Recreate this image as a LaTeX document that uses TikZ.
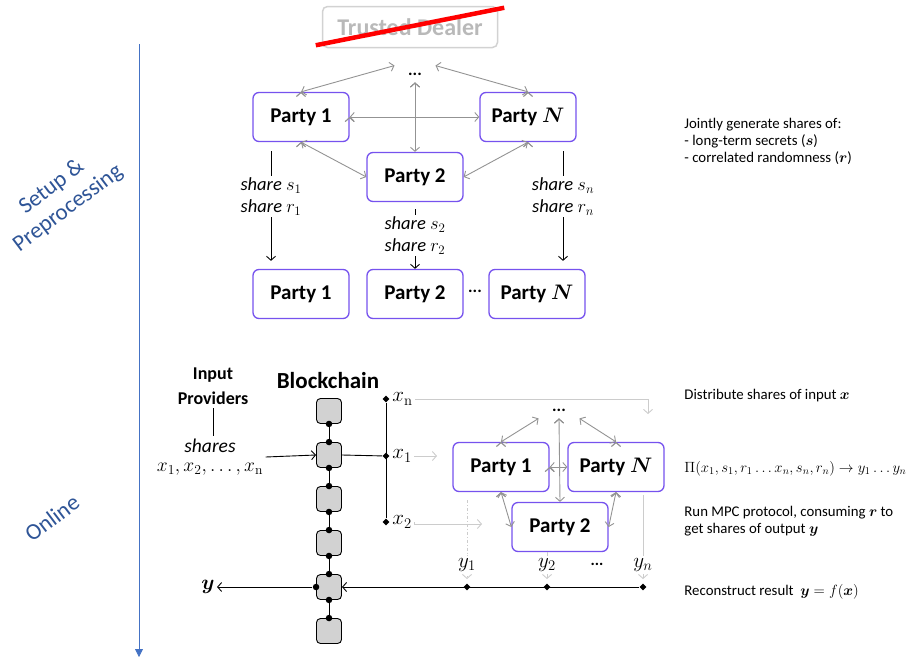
\documentclass[tikz,border=0pt]{standalone}
\usepackage{fix-cm}
\usepackage{amssymb,amsmath}
\usepackage[no-math]{fontspec}
\setmainfont{Carlito}
\usetikzlibrary{shapes.geometric}
\usetikzlibrary{arrows.meta}

\definecolor{partyline}{RGB}{118,82,238}
\definecolor{timeline}{RGB}{68,114,196}
\definecolor{phasetext}{RGB}{47,85,151}

\tikzset{
  party/.style={rectangle, rounded corners=6pt, draw=partyline, line width=1.3pt,
    fill=white, minimum width=96pt, minimum height=49pt,
    font=\fontsize{21}{24}\selectfont\bfseries},
  peer/.style={<->, draw=gray!85, line width=0.9pt},
  feed/.style={->, draw=gray!40, line width=0.9pt},
  blk/.style={rectangle, rounded corners=4pt, draw, line width=0.9pt, fill=gray!35,
    minimum width=25pt, minimum height=25pt},
  chaindot/.style={circle, fill, inner sep=0pt, minimum size=6.5pt},
  joint/.style={diamond, fill, inner sep=0pt, minimum size=7pt},
  sharelbl/.style={fill=white, align=center, inner sep=2pt,
    font=\fontsize{18.5}{22}\selectfont\itshape},
  mathlbl/.style={font=\fontsize{21}{21}\selectfont, inner sep=2pt},
  note/.style={anchor=west, align=left, inner sep=0pt,
    font=\fontsize{14.8}{17}\selectfont},
  phase/.style={text=phasetext, align=center, rotate=37,
    font=\fontsize{23}{27}\selectfont},
}

\begin{document}
\begin{tikzpicture}[x=1pt, y=-1pt, line width=0.9pt,
  >={Straight Barb[length=4pt,width=9pt]}]
\useasboundingbox (0,0) rectangle (917,664);

  % time line on the left
  \draw[timeline, line width=0.8pt, -{Triangle[length=8pt,width=8pt]}] (139,44) -- (139,657);
  \node[phase] (setup) at (60,198) {Setup \&\\Preprocessing};
  \node[phase] (online) at (52,518) {Online};

  % crossed out dealer
  \node[rectangle, rounded corners=5pt, draw=gray!35, line width=1.5pt, text=gray!55,
        minimum width=175pt, minimum height=41pt, font=\fontsize{24}{26}\selectfont\bfseries]
       (dealer) at (410,27) {Trusted Dealer};
  \draw[red, line width=4.5pt] ([xshift=-6pt,yshift=3pt]dealer.south west)
       -- ([xshift=6pt,yshift=-2pt]dealer.north east);

  % preprocessing parties
  \node[font=\fontsize{17}{17}\selectfont\bfseries, minimum width=40pt, minimum height=16pt]
       (topdots) at (415,74) {...};
  \node[party] (p1) at (301,117) {Party 1};
  \node[party] (pN) at (528,117) {Party $\boldsymbol{N}$};
  \node[party] (p2) at (415,177) {Party 2};

  \path[peer] (p1.north) edge (topdots.north west);
  \path[peer] (pN.north) edge (topdots.north east);
  \path[peer] (p1.east) edge (pN.west);
  \path[peer] (topdots.south) edge (p2.north);
  \path[peer] (p1.south) edge (p2.west);
  \path[peer] (pN.south) edge (p2.east);

  % shares after preprocessing
  \node[party] (q1) at (301,294) {Party 1};
  \node[party] (q2) at (415,294) {Party 2};
  \node[party] (qN) at (537,294) {Party $\boldsymbol{N}$};
  \node[font=\fontsize{17}{17}\selectfont\bfseries] (qdots) at (475,291) {...};

  \draw[->, shorten <=9pt, shorten >=8pt] ([xshift=-30pt]p1.south) -- ([xshift=-30pt]q1.north)
       node[sharelbl, pos=0.43] (sh1) {share $s_1$\\share $r_1$};
  \draw[->, shorten <=7pt] (p2.south) -- (q2.north)
       node[sharelbl, midway] (sh2) {share $s_2$\\share $r_2$};
  \draw[->, shorten <=9pt, shorten >=8pt] ([xshift=35pt]pN.south) -- ([xshift=35pt]pN.south |- qN.north)
       node[sharelbl, pos=0.43] (shN) {share $s_n$\\share $r_n$};

  \node[note] (gen) at (684,141) {Jointly generate shares of:\\- long-term secrets ($\boldsymbol{s}$)\\- correlated randomness ($\boldsymbol{r}$)};

  % online phase: input providers and chain
  \node[align=center, font=\fontsize{18}{25}\selectfont\bfseries] (prov) at (213,386) {Input\\Providers};
  \node[font=\fontsize{23}{24}\selectfont\bfseries] (chain) at (328,381) {Blockchain};
  \node[sharelbl, font=\fontsize{19.5}{19}\selectfont] (shares) at (210,457)
       {\textit{shares}\\$x_1,x_2,\ldots,x_\mathrm{n}$};
  \draw (prov.south) -- (shares.north -| prov.south);

  \foreach \i/\y in {1/411,2/455,3/499,4/543,5/587,6/631}
    \node[blk] (b\i) at (329,\y) {};
  \foreach \i/\j in {1/2,2/3,3/4,4/5,5/6}
    \draw (b\i.south) -- (b\j.north) node[chaindot, pos=0] {} node[chaindot, pos=1] {};

  \draw[->] (shares.east) -- (b2.west);

  % distribution bar
  \node[joint] (jn) at (386,399) {};
  \node[joint] (j1) at (386,456) {};
  \node[joint] (j2) at (386,522) {};
  \draw (jn) -- (j2);
  \draw (b2.east) -- (j1);
  \node[mathlbl, right] (lxn) at (jn.east) {$x_\mathrm{n}$};
  \node[mathlbl, right] (lx1) at (j1.east) {$x_1$};
  \node[mathlbl, right] (lx2) at (j2.east) {$x_2$};

  \coordinate (feedn) at (648,414);
  \coordinate (feed1) at (437,456);
  \coordinate (feed2) at (482,524);
  \draw[feed] (lxn.east) -| (feedn);
  \draw[feed] (lx1.east) -- (feed1);
  \draw[feed] (lx2.east) -- (feed2 -| lx2.east) -- (feed2);

  \node[note] (distr) at (684,396) {Distribute shares of input $\boldsymbol{x}$};

  % online parties
  \node[font=\fontsize{17}{17}\selectfont\bfseries, minimum width=40pt, minimum height=16pt]
       (odots) at (559,410) {...};
  \node[party] (op1) at (501,467) {Party 1};
  \node[party] (opN) at (616,467) {Party $\boldsymbol{N}$};
  \node[party] (op2) at (560,527) {Party 2};

  \path[peer] (op1.north) edge (odots.south west);
  \path[peer] (opN.north) edge (odots.south east);
  \path[peer] (odots.south) edge (op2.north);
  \path[peer] (op1.east) edge (opN.west);
  \path[peer] (op1.south) edge (op2.west);
  \path[peer] (opN.south) edge (op2.east);

  \node[note] (proto) at (684,469) {$\Pi(x_1,s_1,r_1 \ldots x_n,s_n,r_n) \rightarrow y_1 \ldots y_n$};
  \node[note] (run) at (684,521) {Run MPC protocol, consuming $\boldsymbol{r}$ to\\get shares of output $\boldsymbol{y}$};

  % outputs
  \node[joint] (o1) at (467,587) {};
  \node[joint] (o2) at (547,587) {};
  \node[joint] (on) at (643,587) {};
  \draw[feed, dash dot, shorten <=8pt, shorten >=4pt] (op1.south -| o1) -- (o1);
  \draw[feed, shorten >=4pt] (op2.south -| o2) -- (o2);
  \draw[feed, shorten <=3pt, shorten >=4pt] (opN.south -| on) -- (on);
  \node[mathlbl, fill=white] (ly1) at (467,565) {$y_1$};
  \node[mathlbl, fill=white] (ly2) at (547,565) {$y_2$};
  \node[mathlbl, fill=white] (lyn) at (643,565) {$y_n$};
  \node[font=\fontsize{16}{16}\selectfont\bfseries] (ydots) at (597,564) {...};

  \draw[->] (on) -- (b5.east);
  \node[chaindot] (b5w) at (b5.west) {};
  \node[mathlbl] (yout) at (208,587) {$\boldsymbol{y}$};
  \draw[->] (b5w) -- (yout);

  \node[note] (recon) at (684,592) {Reconstruct result \ $\boldsymbol{y}=f(\boldsymbol{x})$};

\end{tikzpicture}
\end{document}
